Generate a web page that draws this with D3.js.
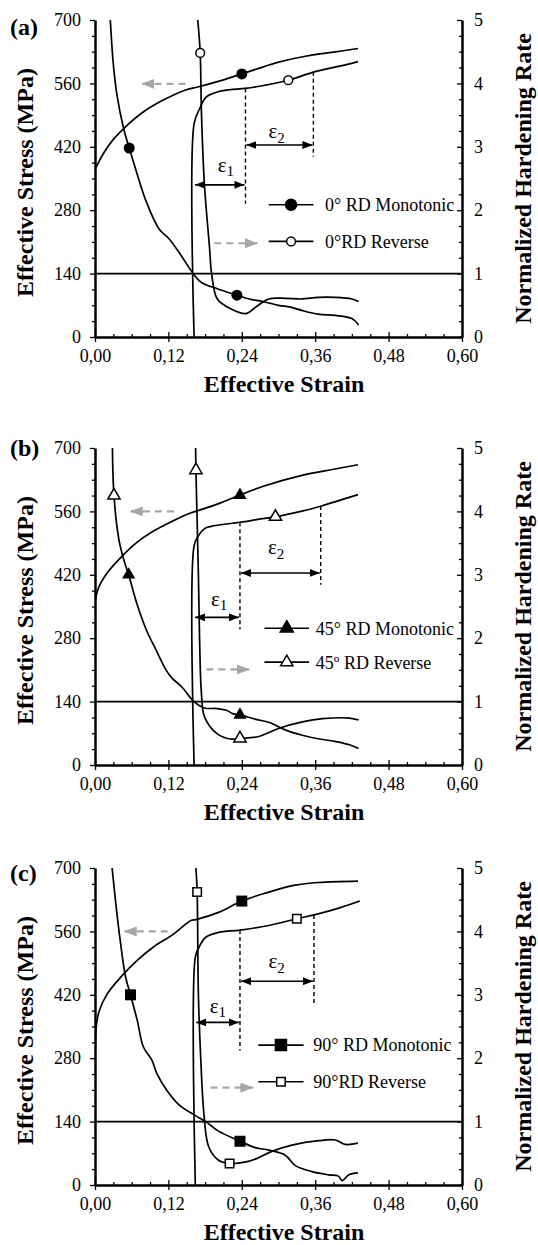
<!DOCTYPE html>
<html>
<head>
<meta charset="utf-8">
<script src="https://cdn.jsdelivr.net/npm/d3@7"></script>
<style>
body { margin: 0; background: #fff; }
</style>
</head>
<body>
<svg id="chart" width="538" height="1245"></svg>
<script>
var strainTicks = [0, 0.12, 0.24, 0.36, 0.48, 0.60];
var stressTicks = [0, 140, 280, 420, 560, 700];
var rateTicks = [0, 1, 2, 3, 4, 5];

// (a) 0° RD  -- stress in MPa, rate normalized
var monoStressA = [[0, 370], [0.015, 408], [0.031, 438], [0.052, 467], [0.079, 497], [0.11, 522], [0.147, 545], [0.168, 552], [0.2, 564], [0.24, 581], [0.274, 596], [0.3, 607], [0.344, 620], [0.39, 629], [0.43, 637]];
var revStressA = [[0.162, 0], [0.162, 471], [0.171, 504], [0.182, 530], [0.2, 541], [0.22, 546], [0.246, 549], [0.278, 556], [0.316, 567], [0.36, 586], [0.4, 598], [0.43, 608]];
var monoRateA = [[0.025, 5.0], [0.03, 4.3], [0.036, 3.81], [0.047, 3.28], [0.056, 2.98], [0.068, 2.6], [0.084, 2.13], [0.105, 1.7], [0.121, 1.55], [0.137, 1.34], [0.162, 0.98], [0.174, 0.86], [0.2, 0.76], [0.232, 0.66], [0.252, 0.6], [0.274, 0.56], [0.3, 0.5], [0.32, 0.47], [0.338, 0.42], [0.365, 0.36], [0.393, 0.34], [0.42, 0.29], [0.431, 0.19]];
var revRateA = [[0.168, 5.0], [0.172, 4.48], [0.174, 3.55], [0.179, 2.39], [0.187, 1.44], [0.191, 0.97], [0.2, 0.6], [0.221, 0.45], [0.247, 0.37], [0.264, 0.48], [0.284, 0.6], [0.311, 0.61], [0.338, 0.6], [0.365, 0.625], [0.393, 0.625], [0.42, 0.6], [0.431, 0.56]];
var monoMarksA = [[0.056, 2.98, "rate"], [0.24, 581, "stress"], [0.232, 0.66, "rate"]];
var revMarksA = [[0.172, 4.48, "rate"], [0.316, 567, "stress"]];
var legendA = ["0° RD Monotonic", "0°RD Reverse"];

// (b) 45° RD
var monoStressB = [[0, 358], [0.006, 392], [0.021, 426], [0.042, 458], [0.068, 491], [0.095, 516], [0.126, 538], [0.155, 556], [0.162, 559], [0.2, 576], [0.237, 596], [0.274, 615], [0.34, 640], [0.39, 653], [0.43, 663]];
var revStressB = [[0.162, 0], [0.162, 484], [0.169, 506], [0.179, 522], [0.19, 527], [0.237, 536], [0.274, 544], [0.295, 548], [0.34, 561], [0.37, 572], [0.43, 597]];
var monoRateB = [[0.0285, 5.0], [0.031, 4.25], [0.039, 3.56], [0.047, 3.24], [0.055, 3.0], [0.068, 2.56], [0.084, 2.13], [0.1, 1.81], [0.116, 1.5], [0.126, 1.37], [0.142, 1.23], [0.162, 1.0], [0.179, 0.9], [0.2, 0.89], [0.216, 0.86], [0.225, 0.81], [0.237, 0.79], [0.263, 0.72], [0.285, 0.67], [0.312, 0.55], [0.339, 0.47], [0.367, 0.41], [0.394, 0.37], [0.416, 0.32], [0.431, 0.26]];
var revRateB = [[0.1645, 5.0], [0.165, 4.65], [0.169, 3.03], [0.171, 1.97], [0.174, 1.13], [0.179, 0.76], [0.2, 0.49], [0.221, 0.41], [0.237, 0.42], [0.268, 0.45], [0.301, 0.58], [0.339, 0.68], [0.372, 0.73], [0.416, 0.74], [0.431, 0.71]];
var monoMarksB = [[0.055, 3.0, "rate"], [0.237, 596, "stress"], [0.237, 0.79, "rate"]];
var revMarksB = [[0.031, 4.25, "rate"], [0.165, 4.65, "rate"], [0.295, 548, "stress"], [0.237, 0.42, "rate"]];
var legendB = ["45° RD Monotonic", "45º RD Reverse"];

// (c) 90° RD
var monoStressC = [[0, 275], [0.002, 349], [0.007, 385], [0.02, 422], [0.042, 459], [0.069, 496], [0.095, 525], [0.127, 553], [0.157, 584], [0.165, 586], [0.202, 602], [0.24, 627], [0.28, 645], [0.327, 662], [0.366, 668], [0.43, 671]];
var revStressC = [[0.164, 0], [0.164, 503], [0.17, 525], [0.181, 547], [0.202, 558], [0.237, 563], [0.284, 573], [0.33, 588], [0.36, 597], [0.4, 612], [0.433, 627]];
var monoRateC = [[0.028, 5.0], [0.035, 4.35], [0.042, 3.8], [0.05, 3.28], [0.058, 3.0], [0.069, 2.6], [0.079, 2.18], [0.093, 1.97], [0.101, 1.76], [0.117, 1.5], [0.138, 1.26], [0.165, 1.09], [0.181, 1.0], [0.202, 0.85], [0.237, 0.69], [0.262, 0.59], [0.284, 0.55], [0.311, 0.47], [0.327, 0.31], [0.355, 0.21], [0.382, 0.16], [0.398, 0.14], [0.404, 0.07], [0.415, 0.16], [0.43, 0.19]];
var revRateC = [[0.165, 5.0], [0.167, 4.62], [0.169, 3.02], [0.173, 1.97], [0.178, 1.13], [0.186, 0.6], [0.202, 0.39], [0.22, 0.34], [0.245, 0.36], [0.265, 0.42], [0.289, 0.53], [0.322, 0.63], [0.366, 0.7], [0.393, 0.71], [0.409, 0.64], [0.43, 0.66]];
var monoMarksC = [[0.058, 3.0, "rate"], [0.24, 627, "stress"], [0.237, 0.69, "rate"]];
var revMarksC = [[0.167, 4.62, "rate"], [0.33, 588, "stress"], [0.22, 0.34, "rate"]];
var legendC = ["90° RD Monotonic", "90°RD Reverse"];

var panels = [
  {tag: "(a)", top: 20, tagDy: 15, shape: d3.symbolCircle, fillSize: 95, openSize: 60,
   monoStress: monoStressA, revStress: revStressA, monoRate: monoRateA, revRate: revRateA,
   monoMarks: monoMarksA, revMarks: revMarksA, legend: legendA,
   eps: {s: 0.162, m: 0.246, e: 0.357, y1: 336, y2: 424, mTop: 549, mBot: 294, eTop: 586, eBot: 398, l1: [0.214, 379], l2: [0.297, 453]},
   grayL: [0.148, 0.076, 559], grayR: [0.195, 0.266, 207],
   leg: {x1: 0.284, x2: 0.357, tx: 0.376, y1: 292, y2: 211}},
  {tag: "(b)", top: 448, tagDy: 8, shape: d3.symbolTriangle, fillSize: 75, openSize: 65,
   monoStress: monoStressB, revStress: revStressB, monoRate: monoRateB, revRate: revRateB,
   monoMarks: monoMarksB, revMarks: revMarksB, legend: legendB,
   eps: {s: 0.162, m: 0.237, e: 0.369, y1: 326, y2: 424, mTop: 536, mBot: 299, eTop: 572, eBot: 398, l1: [0.203, 366], l2: [0.296, 479]},
   grayL: [0.129, 0.057, 560], grayR: [0.182, 0.253, 211],
   leg: {x1: 0.277, x2: 0.35, tx: 0.361, y1: 302, y2: 227}},
  {tag: "(c)", top: 868, tagDy: 13, shape: d3.symbolSquare, fillSize: 121, openSize: 72,
   monoStress: monoStressC, revStress: revStressC, monoRate: monoRateC, revRate: revRateC,
   monoMarks: monoMarksC, revMarks: revMarksC, legend: legendC,
   eps: {s: 0.164, m: 0.237, e: 0.358, y1: 359, y2: 450, mTop: 563, mBot: 297, eTop: 596, eBot: 399, l1: [0.201, 394], l2: [0.297, 493]},
   grayL: [0.119, 0.047, 560], grayR: [0.189, 0.259, 215],
   leg: {x1: 0.267, x2: 0.341, tx: 0.357, y1: 309, y2: 228}}
];

var left = 95, right = 462, plotH = 317;
var serif = "'Liberation Serif', 'Times New Roman', serif";
var gray = "#a6a6a6";

var svg = d3.select("#chart");
var defs = svg.append("defs");

defs.append("marker")
  .attr("id", "headBlack")
  .attr("viewBox", "0 0 10 8")
  .attr("refX", 10).attr("refY", 4)
  .attr("markerWidth", 10).attr("markerHeight", 8)
  .attr("markerUnits", "userSpaceOnUse")
  .attr("orient", "auto-start-reverse")
  .append("path").attr("d", "M0,0L10,4L0,8Z").attr("fill", "#000");

defs.append("marker")
  .attr("id", "headGray")
  .attr("viewBox", "0 0 13 10")
  .attr("refX", 13).attr("refY", 5)
  .attr("markerWidth", 13).attr("markerHeight", 10)
  .attr("markerUnits", "userSpaceOnUse")
  .attr("orient", "auto")
  .append("path").attr("d", "M0,0L13,5L0,10Z").attr("fill", gray);

var xScale = d3.scaleLinear().domain([0, 0.6]).range([left, right]);
var yStress = d3.scaleLinear().domain([0, 700]).range([plotH, 0]);
var yRate = d3.scaleLinear().domain([0, 5]).range([plotH, 0]);

var stressLine = d3.line()
  .x(function(d) { return xScale(d[0]); })
  .y(function(d) { return yStress(d[1]); })
  .curve(d3.curveCatmullRom.alpha(0.5));

var rateLine = d3.line()
  .x(function(d) { return xScale(d[0]); })
  .y(function(d) { return yRate(d[1]); })
  .curve(d3.curveCatmullRom.alpha(0.5));

var minorStrain = d3.range(1, 20).map(function(i) { return i * 0.03; }).filter(function(v, i) { return (i + 1) % 4 != 0; });
var minorStress = d3.range(1, 20).map(function(i) { return i * 35; }).filter(function(v, i) { return (i + 1) % 4 != 0; });
var minorRate = d3.range(1, 20).map(function(i) { return i * 0.25; }).filter(function(v, i) { return (i + 1) % 4 != 0; });

function styleAxis(g, w) {
  g.attr("font-size", 18);
  g.select(".domain").attr("stroke", "#000").attr("stroke-width", w);
  g.selectAll(".tick line").attr("stroke", "#000").attr("stroke-width", 1.3);
  g.selectAll(".tick text").attr("fill", "#000");
}

panels.forEach(function(p, idx) {
  var g = svg.append("g").attr("transform", "translate(0," + p.top + ")");

  g.append("clipPath").attr("id", "clip" + idx)
    .append("rect").attr("x", left).attr("y", -2).attr("width", right - left).attr("height", plotH + 2);

  // axes
  var gx = g.append("g").attr("transform", "translate(0," + plotH + ")")
    .call(d3.axisBottom(xScale).tickValues(strainTicks).tickSizeInner(5).tickSizeOuter(0).tickPadding(7)
      .tickFormat(function(d) { return d3.format(".2f")(d).replace(".", ","); }));
  styleAxis(gx, 2.5);
  var gxUp = g.append("g").attr("transform", "translate(0," + plotH + ")")
    .call(d3.axisTop(xScale).tickValues(strainTicks).tickSizeInner(5).tickSizeOuter(0).tickFormat(""));
  styleAxis(gxUp, 0);
  var gxMinor = g.append("g").attr("transform", "translate(0," + plotH + ")")
    .call(d3.axisTop(xScale).tickValues(minorStrain).tickSizeInner(3).tickSizeOuter(0).tickFormat(""));
  styleAxis(gxMinor, 0);

  var gy = g.append("g").attr("transform", "translate(" + left + ",0)")
    .call(d3.axisLeft(yStress).tickValues(stressTicks).tickSizeInner(5).tickSizeOuter(0).tickPadding(9)
      .tickFormat(d3.format("d")));
  styleAxis(gy, 2.5);
  var gyMinor = g.append("g").attr("transform", "translate(" + left + ",0)")
    .call(d3.axisLeft(yStress).tickValues(minorStress).tickSizeInner(3).tickSizeOuter(0).tickFormat(""));
  styleAxis(gyMinor, 0);

  var gr = g.append("g").attr("transform", "translate(" + right + ",0)")
    .call(d3.axisRight(yRate).tickValues(rateTicks).tickSizeInner(-5).tickSizeOuter(0).tickPadding(12)
      .tickFormat(d3.format("d")));
  styleAxis(gr, 2.5);
  var grMinor = g.append("g").attr("transform", "translate(" + right + ",0)")
    .call(d3.axisRight(yRate).tickValues(minorRate).tickSizeInner(-3).tickSizeOuter(0).tickFormat(""));
  styleAxis(grMinor, 0);

  // titles
  g.append("text")
    .attr("transform", "translate(33," + (plotH / 2 + 4) + ") rotate(-90)")
    .attr("text-anchor", "middle").attr("font-size", 24).attr("font-weight", "bold")
    .text("Effective Stress (MPa)");
  g.append("text")
    .attr("transform", "translate(531," + (plotH / 2) + ") rotate(-90)")
    .attr("text-anchor", "middle").attr("font-size", 24).attr("font-weight", "bold")
    .text("Normalized Hardening Rate");
  g.append("text")
    .attr("x", 284).attr("y", plotH + 55)
    .attr("text-anchor", "middle").attr("font-size", 24).attr("font-weight", "bold")
    .text("Effective Strain");
  g.append("text")
    .attr("x", 10).attr("y", p.tagDy)
    .attr("font-size", 24).attr("font-weight", "bold")
    .text(p.tag);

  // reference line: normalized rate = 1
  g.append("line")
    .attr("x1", xScale(0)).attr("x2", xScale(0.6))
    .attr("y1", yRate(1)).attr("y2", yRate(1))
    .attr("stroke", "#000").attr("stroke-width", 1.6);

  // curves
  var curves = g.append("g").attr("clip-path", "url(#clip" + idx + ")");
  [[p.monoStress, stressLine], [p.revStress, stressLine], [p.monoRate, rateLine], [p.revRate, rateLine]]
    .forEach(function(c) {
      curves.append("path")
        .datum(c[0])
        .attr("d", c[1])
        .attr("fill", "none")
        .attr("stroke", "#000")
        .attr("stroke-width", 1.7);
    });

  // strain increments
  var e = p.eps;
  [[e.m, e.mTop, e.mBot], [e.e, e.eTop, e.eBot]].forEach(function(d) {
    g.append("line")
      .attr("x1", xScale(d[0])).attr("x2", xScale(d[0]))
      .attr("y1", yStress(d[1])).attr("y2", yStress(d[2]))
      .attr("stroke", "#000").attr("stroke-width", 1.4).attr("stroke-dasharray", "4,3");
  });
  [[e.s, e.m, e.y1], [e.m, e.e, e.y2]].forEach(function(d) {
    g.append("line")
      .attr("x1", xScale(d[0]) + 1).attr("x2", xScale(d[1]) - 1)
      .attr("y1", yStress(d[2])).attr("y2", yStress(d[2]))
      .attr("stroke", "#000").attr("stroke-width", 1.6)
      .attr("marker-start", "url(#headBlack)").attr("marker-end", "url(#headBlack)");
  });
  [[e.l1, "1"], [e.l2, "2"]].forEach(function(d) {
    var t = g.append("text")
      .attr("x", xScale(d[0][0])).attr("y", yStress(d[0][1]))
      .attr("dy", "0.3em").attr("text-anchor", "middle").attr("font-size", 21);
    t.append("tspan").text("ε");
    t.append("tspan").attr("font-size", 15).attr("dy", "0.3em").text(d[1]);
  });

  // gray dashed arrows pointing to the axis each curve belongs to
  [p.grayL, p.grayR].forEach(function(d) {
    g.append("line")
      .attr("x1", xScale(d[0])).attr("x2", xScale(d[1]))
      .attr("y1", yStress(d[2])).attr("y2", yStress(d[2]))
      .attr("stroke", gray).attr("stroke-width", 2.2).attr("stroke-dasharray", "7,5")
      .attr("marker-end", "url(#headGray)");
  });

  // markers
  function markerY(d) { return d[2] == "rate" ? yRate(d[1]) : yStress(d[1]); }
  var filled = d3.symbol().type(p.shape).size(p.fillSize);
  var open = d3.symbol().type(p.shape).size(p.openSize);
  g.selectAll(".markMono").data(p.monoMarks).enter().append("path")
    .attr("class", "markMono")
    .attr("transform", function(d) { return "translate(" + xScale(d[0]) + "," + markerY(d) + ")"; })
    .attr("d", filled).attr("fill", "#000");
  g.selectAll(".markRev").data(p.revMarks).enter().append("path")
    .attr("class", "markRev")
    .attr("transform", function(d) { return "translate(" + xScale(d[0]) + "," + markerY(d) + ")"; })
    .attr("d", open).attr("fill", "#fff").attr("stroke", "#000").attr("stroke-width", 1.5);

  // legend
  var L = p.leg;
  [[L.y1, filled, "#000", p.legend[0]], [L.y2, open, "#fff", p.legend[1]]].forEach(function(d) {
    var y = yStress(d[0]);
    g.append("line")
      .attr("x1", xScale(L.x1)).attr("x2", xScale(L.x2))
      .attr("y1", y).attr("y2", y)
      .attr("stroke", "#000").attr("stroke-width", 1.7);
    g.append("path")
      .attr("transform", "translate(" + xScale((L.x1 + L.x2) / 2) + "," + y + ")")
      .attr("d", d[1]).attr("fill", d[2]).attr("stroke", "#000").attr("stroke-width", 1.5);
    g.append("text")
      .attr("x", xScale(L.tx)).attr("y", y).attr("dy", "0.35em")
      .attr("font-size", 18)
      .text(d[3]);
  });
});

svg.selectAll("text").style("font-family", serif).style("fill", "#000");
</script>
</body>
</html>
